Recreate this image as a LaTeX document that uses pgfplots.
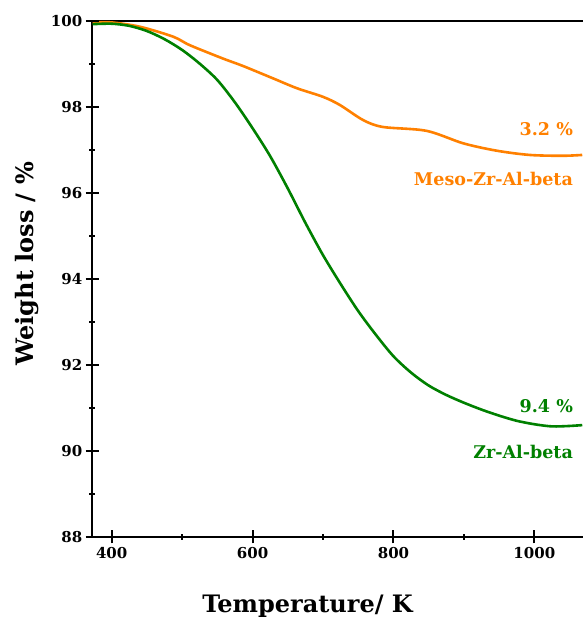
\documentclass[border=0pt]{standalone}
\usepackage{pgfplots}
\pgfplotsset{compat=1.18}
\usepackage{fontspec}
\setmainfont{DejaVu Serif}
\usetikzlibrary{calc}
\definecolor{orgc}{RGB}{255,128,0}
\definecolor{grnc}{RGB}{0,128,0}
\begin{document}
\begin{tikzpicture}
\begin{axis}[
  scale only axis,
  width=494.6pt, height=516pt,
  xmin=372.5, xmax=1075,
  ymin=88, ymax=100,
  axis line style={line width=2pt},
  xtick={400,600,800,1000},
  ytick={88,90,92,94,96,98,100},
  minor x tick num=1,
  minor y tick num=1,
  xtick pos=bottom,
  ytick pos=left,
  tick align=center,
  major tick length=13pt,
  minor tick length=6pt,
  every tick/.style={black, line width=2pt},
  every major tick/.style={black, line width=2pt},
  every minor tick/.style={black, line width=2pt},
  /pgf/number format/assume math mode=true,
  /pgf/number format/1000 sep={},
  ticklabel style={font=\fontsize{15}{17}\selectfont\bfseries},
  xlabel={Temperature/ K},
  ylabel={Weight loss / \%},
  xlabel style={font=\fontsize{24}{28}\selectfont\bfseries, at={(axis cs:678,86.4)}, anchor=center},
  ylabel style={font=\fontsize{24}{28}\selectfont\bfseries, at={(axis description cs:-0.132,0.529)}, anchor=center, rotate=0},
  clip=false,
]
\addplot[orgc, line width=2.6pt, smooth] coordinates {
(373,99.96) (400,99.96) (440,99.86) (487,99.63) (511,99.43) (558,99.12) (586,98.95)
(629,98.66) (663,98.43) (700,98.23) (724,98.04) (757,97.69) (785,97.53) (847,97.44)
(899,97.15) (946,96.98) (993,96.88) (1040,96.86) (1068,96.88)};
\addplot[grnc, line width=2.6pt, smooth] coordinates {
(373,99.92) (400,99.93) (425,99.88) (450,99.76) (475,99.57) (500,99.32) (525,99.00)
(550,98.62) (575,98.10) (600,97.50) (625,96.85) (650,96.10) (675,95.30) (700,94.55)
(725,93.88) (750,93.25) (775,92.70) (800,92.20) (825,91.82) (850,91.52) (875,91.30)
(900,91.12) (925,90.96) (950,90.82) (975,90.70) (1000,90.62) (1025,90.57) (1050,90.58) (1068,90.60)};
\pgfplotsinvokeforeach{88,90,92,94,96,98,100}{
  \draw[black, line width=2pt] ([xshift=-6.5pt]axis cs:372.5,#1) -- ([xshift=6.5pt]axis cs:372.5,#1);
}
\node[anchor=base east, text=orgc, font=\fontsize{17.5}{19}\selectfont\bfseries, inner sep=0pt] at (axis cs:1055,97.34) {3.2 \%};
\node[anchor=base east, text=orgc, font=\fontsize{17.5}{19}\selectfont\bfseries, inner sep=0pt] at (axis cs:1055,96.18) {Meso-Zr-Al-beta};
\node[anchor=base east, text=grnc, font=\fontsize{17.5}{19}\selectfont\bfseries, inner sep=0pt] at (axis cs:1055,90.90) {9.4 \%};
\node[anchor=base east, text=grnc, font=\fontsize{17.5}{19}\selectfont\bfseries, inner sep=0pt] at (axis cs:1055,89.83) {Zr-Al-beta};
\coordinate (bl) at (axis cs:372.5,88);
\coordinate (tr) at (axis cs:1068,100);
\end{axis}
\pgfresetboundingbox
\useasboundingbox ($(bl)+(-92.3pt,-84pt)$) rectangle ($(tr)+(0pt,20.7pt)$);
\end{tikzpicture}
\end{document}
